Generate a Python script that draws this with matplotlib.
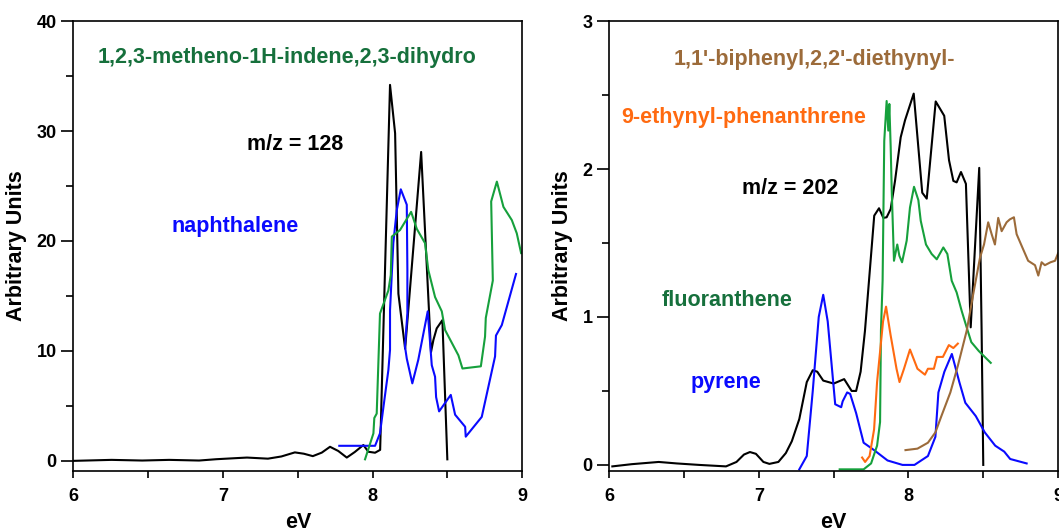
import matplotlib
matplotlib.use("Agg")
import matplotlib.pyplot as plt
from matplotlib.ticker import MultipleLocator

plt.rcParams['font.family'] = ['Liberation Sans', 'DejaVu Sans']
plt.rcParams['font.weight'] = 'bold'
plt.rcParams['axes.labelweight'] = 'bold'

# ---- left panel, m/z = 128 ----
mz128_x = [6.0, 6.255, 6.46, 6.64, 6.84, 6.955, 7.09, 7.16, 7.3, 7.39, 7.48, 7.54, 7.60,
           7.66, 7.715, 7.77, 7.827, 7.88, 7.938, 7.971, 8.016, 8.05, 8.116, 8.150, 8.172,
           8.217, 8.324, 8.390, 8.406, 8.428, 8.466, 8.499]
mz128_y = [0.0, 0.09, 0.03, 0.09, 0.03, 0.15, 0.25, 0.3, 0.2, 0.4, 0.77, 0.65, 0.43,
           0.75, 1.28, 0.9, 0.3, 0.8, 1.44, 0.83, 0.74, 1.0, 34.2, 29.8, 15.2,
           10.2, 28.1, 9.9, 11.0, 12.05, 12.8, 0.14]

naph_x = [7.777, 8.016, 8.049, 8.072, 8.105, 8.116, 8.116, 8.138, 8.161, 8.188, 8.228,
          8.232, 8.232, 8.216, 8.228, 8.265, 8.305, 8.368, 8.395, 8.417, 8.424, 8.444,
          8.522, 8.551, 8.618, 8.622, 8.729, 8.818, 8.824, 8.863, 8.958]
naph_y = [1.37, 1.37, 2.5, 4.9, 8.26, 10.1, 13.7, 19.8, 22.8, 24.7, 23.3,
          17.4, 13.4, 10.4, 9.3, 7.05, 9.2, 13.6, 8.7, 7.65, 5.8, 4.5,
          6.0, 4.2, 3.1, 2.2, 4.0, 9.5, 11.4, 12.35, 17.0]

meth_x = [7.949, 8.005, 8.011, 8.027, 8.049, 8.105, 8.121, 8.128, 8.183, 8.257, 8.295,
          8.350, 8.372, 8.417, 8.462, 8.484, 8.573, 8.600, 8.723, 8.751, 8.756, 8.803,
          8.792, 8.830, 8.874, 8.930, 8.963, 8.992]
meth_y = [0.14, 2.5, 3.9, 4.3, 13.4, 15.5, 16.9, 20.4, 21.0, 22.65, 21.1,
          19.8, 17.35, 14.9, 13.6, 11.9, 9.6, 8.4, 8.6, 11.3, 13.0, 16.4,
          23.6, 25.4, 23.1, 21.9, 20.7, 18.9]

# ---- right panel, m/z = 202 ----
mz202_x = [6.02, 6.15, 6.33, 6.45, 6.6, 6.78, 6.85, 6.9, 6.94, 6.98, 7.03, 7.07, 7.13,
           7.18, 7.22, 7.27, 7.32, 7.36, 7.39, 7.43, 7.5, 7.57, 7.62, 7.65, 7.68, 7.709,
           7.771, 7.803, 7.832, 7.854, 7.881, 7.910, 7.948, 7.977, 8.035, 8.092, 8.122,
           8.182, 8.239, 8.271, 8.30, 8.322, 8.351, 8.384, 8.416, 8.473, 8.489, 8.50]
mz202_y = [-0.01, 0.005, 0.02, 0.01, 0.0, -0.01, 0.02, 0.07, 0.087, 0.075, 0.02, 0.007,
           0.02, 0.08, 0.16, 0.31, 0.56, 0.64, 0.63, 0.57, 0.55, 0.58, 0.5, 0.5, 0.63,
           0.906, 1.685, 1.735, 1.67, 1.674, 1.73, 1.92, 2.215, 2.33, 2.51, 1.84, 1.80,
           2.457, 2.36, 2.06, 1.92, 1.91, 1.98, 1.90, 0.93, 2.008, 0.906, 0.0]

pyr_x = [7.27, 7.32, 7.36, 7.40, 7.43, 7.46, 7.51, 7.55, 7.56, 7.59, 7.61, 7.65, 7.70,
         7.77, 7.86, 7.96, 8.04, 8.13, 8.18, 8.20, 8.24, 8.29, 8.34, 8.38, 8.45, 8.51,
         8.58, 8.64, 8.68, 8.79]
pyr_y = [-0.03, 0.06, 0.5, 1.0, 1.15, 0.97, 0.41, 0.39, 0.43, 0.49, 0.48, 0.35, 0.15,
         0.10, 0.03, 0.0, 0.0, 0.06, 0.19, 0.49, 0.63, 0.75, 0.56, 0.42, 0.33, 0.22,
         0.13, 0.09, 0.04, 0.01]

fluo_x = [7.54, 7.70, 7.75, 7.79, 7.81, 7.816, 7.827, 7.838, 7.854, 7.865, 7.872, 7.881,
          7.888, 7.903, 7.925, 7.939, 7.957, 7.988, 8.01, 8.037, 8.066, 8.082, 8.117,
          8.155, 8.189, 8.233, 8.26, 8.289, 8.322, 8.356, 8.389, 8.42, 8.47, 8.55]
fluo_y = [-0.03, -0.03, 0.01, 0.13, 0.29, 0.91, 1.245, 2.19, 2.46, 2.26, 2.44, 2.15,
          1.855, 1.38, 1.49, 1.414, 1.37, 1.516, 1.74, 1.88, 1.79, 1.65, 1.49,
          1.426, 1.39, 1.47, 1.426, 1.245, 1.166, 1.04, 0.93, 0.83, 0.77, 0.69]

ethp_x = [7.69, 7.71, 7.74, 7.77, 7.79, 7.83, 7.85, 7.88, 7.92, 7.94, 7.97, 8.01, 8.06,
          8.11, 8.13, 8.17, 8.19, 8.23, 8.27, 8.30, 8.33]
ethp_y = [0.05, 0.02, 0.06, 0.24, 0.56, 0.97, 1.07, 0.88, 0.65, 0.56, 0.65, 0.78, 0.65,
          0.61, 0.65, 0.65, 0.73, 0.73, 0.81, 0.79, 0.82]

biph_x = [7.98, 8.06, 8.13, 8.18, 8.22, 8.28, 8.33, 8.389, 8.433, 8.478, 8.505, 8.533,
          8.556, 8.578, 8.60, 8.623, 8.656, 8.678, 8.705, 8.723, 8.757, 8.80, 8.846,
          8.868, 8.89, 8.912, 8.95, 8.98, 9.0]
biph_y = [0.1, 0.11, 0.15, 0.22, 0.33, 0.49, 0.67, 0.906, 1.155, 1.40, 1.49, 1.64,
          1.56, 1.49, 1.67, 1.58, 1.64, 1.66, 1.674, 1.56, 1.48, 1.38, 1.35,
          1.28, 1.37, 1.35, 1.37, 1.38, 1.43]

BLUE = "#0a0aff"
GREEN = "#16a03c"
DKGREEN = "#16703c"
ORANGE = "#ff6a10"
BROWN = "#9c6b3a"
lw = 1.5

fig = plt.figure(figsize=(10.59, 5.28), dpi=100)
ax1 = fig.add_axes([0.0693, 0.108, 0.4239, 0.852])
ax2 = fig.add_axes([0.5754, 0.108, 0.4237, 0.852])

ax1.plot(mz128_x, mz128_y, color="black", lw=lw)
ax1.plot(naph_x, naph_y, color=BLUE, lw=lw)
ax1.plot(meth_x, meth_y, color=GREEN, lw=lw)
ax1.set_xlim(6, 9)
ax1.set_ylim(-0.92, 40)
ax1.yaxis.set_major_locator(MultipleLocator(10))
ax1.yaxis.set_minor_locator(MultipleLocator(5))

ax1.text(7.43, 36.7, "1,2,3-metheno-1H-indene,2,3-dihydro", color=DKGREEN,
         fontsize=15.5, ha="center", va="center")
ax1.text(7.48, 28.8, "m/z = 128", color="black", fontsize=15.5, ha="center", va="center")
ax1.text(7.08, 21.3, "naphthalene", color=BLUE, fontsize=15.5, ha="center", va="center")

ax2.plot(mz202_x, mz202_y, color="black", lw=lw)
ax2.plot(pyr_x, pyr_y, color=BLUE, lw=lw)
ax2.plot(fluo_x, fluo_y, color=GREEN, lw=lw)
ax2.plot(ethp_x, ethp_y, color=ORANGE, lw=lw)
ax2.plot(biph_x, biph_y, color=BROWN, lw=lw)
ax2.set_xlim(6, 9)
ax2.set_ylim(-0.041, 3)
ax2.yaxis.set_major_locator(MultipleLocator(1))
ax2.yaxis.set_minor_locator(MultipleLocator(0.5))

ax2.text(7.37, 2.74, "1,1'-biphenyl,2,2'-diethynyl-", color=BROWN,
         fontsize=15.5, ha="center", va="center")
ax2.text(6.90, 2.35, "9-ethynyl-phenanthrene", color=ORANGE, fontsize=15.5,
         ha="center", va="center")
ax2.text(7.21, 1.87, "m/z = 202", color="black", fontsize=15.5, ha="center", va="center")
ax2.text(6.79, 1.11, "fluoranthene", color=DKGREEN, fontsize=15.5, ha="center", va="center")
ax2.text(6.78, 0.56, "pyrene", color=BLUE, fontsize=15.5, ha="center", va="center")

for ax in (ax1, ax2):
    ax.xaxis.set_major_locator(MultipleLocator(1))
    ax.xaxis.set_minor_locator(MultipleLocator(0.5))
    ax.tick_params(axis="y", which="major", direction="out", length=9, width=1.2,
                   labelsize=13, pad=3)
    ax.tick_params(axis="y", which="minor", direction="out", length=5, width=1.2)
    ax.tick_params(axis="x", which="both", direction="out", length=5, width=1.2,
                   labelsize=13, pad=7)
    for s in ax.spines.values():
        s.set_linewidth(1.2)
    ax.set_xlabel("eV", fontsize=15.5, labelpad=5)
    ax.set_ylabel("Arbitrary Units", fontsize=15.5, labelpad=7)

fig.savefig("out.png", dpi=100)
